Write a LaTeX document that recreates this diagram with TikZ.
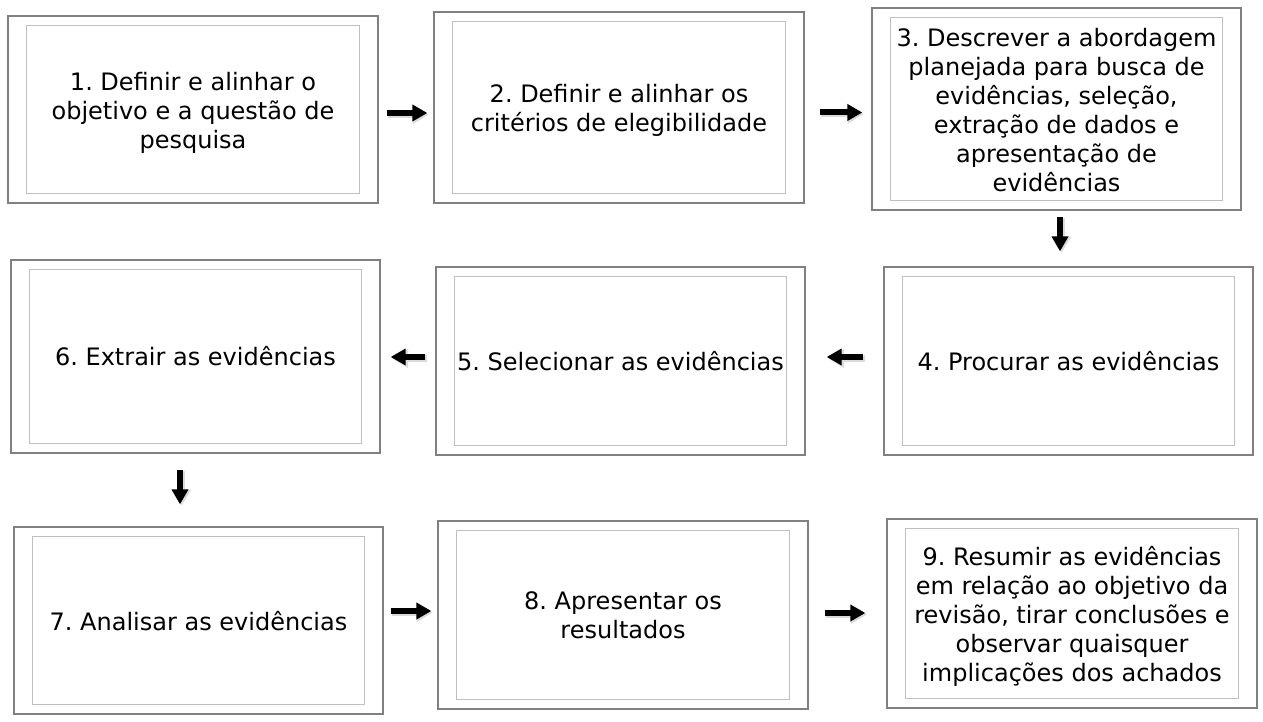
\documentclass[tikz,border=0pt]{standalone}
\usepackage{fontspec}
\setmainfont{DejaVu Sans}
\usetikzlibrary{arrows.meta,fit}
\begin{document}
\begin{tikzpicture}[x=1pt,y=-1pt,
 outer/.style={draw=black!50, line width=1.3pt, fill=white, rectangle, inner sep=0pt},
 innerbox/.style={draw=black!25, line width=1pt},
 lbl/.style={align=center, font=\fontsize{24}{29}\selectfont\frenchspacing, inner sep=0pt},
 arr/.style={line width=6pt, -{Triangle[length=15pt,width=16pt]}, black,
   preaction={draw=black!14, line width=7pt, -{Triangle[length=16pt,width=18pt]}, transform canvas={shift={(1.5pt,-1.5pt)}}}},
]
\useasboundingbox (0,0) rectangle (1263,722);
\newcommand\flowbox[7][0]{%
  \node[outer, fit={(#3,#4) (#5,#6)}] (#2) {};
  \draw[innerbox] ([xshift=19.5pt,yshift=-10pt]#2.north west) rectangle ([xshift=-19.5pt,yshift=10pt]#2.south east);
  \node[lbl, yshift=-#1pt] (t#2) at (#2.center) {#7};
}
\flowbox[3]{b1}{8}{16}{378}{203}{1. Definir e alinhar o\\objetivo e a questão de\\pesquisa}
\flowbox[3]{b2}{434}{12}{804}{203}{2. Definir e alinhar os\\critérios de elegibilidade}
\flowbox[1]{b3}{872}{8}{1241}{210}{3. Descrever a abordagem\\planejada para busca de\\evidências, seleção,\\extração de dados e\\apresentação de\\evidências}
\flowbox{b6}{11}{260}{380}{453}{6. Extrair as evidências}
\flowbox{b5}{436}{267}{805}{455}{5. Selecionar as evidências}
\flowbox{b4}{884}{267}{1253}{455}{4. Procurar as evidências}
\flowbox[0.5]{b7}{14}{527}{383}{714}{7. Analisar as evidências}
\flowbox[0.5]{b8}{438}{521}{808}{709}{8. Apresentar os\\resultados}
\flowbox[2.5]{b9}{887}{519}{1257}{708}{9. Resumir as evidências\\em relação ao objetivo da\\revisão, tirar conclusões e\\observar quaisquer\\implicações dos achados}

\draw[arr, shorten <=8pt, shorten >=6pt] (b1.east |- 0,113) -- (b2.west |- 0,113);
\draw[arr, shorten <=15pt, shorten >=9pt] (b2.east |- 0,112.5) -- (b3.west |- 0,112.5);
\draw[arr, shorten <=6pt, shorten >=15pt] (b3.south -| 1060,0) -- (b4.north -| 1060,0);
\draw[arr, shorten <=20pt, shorten >=21pt] (b4.west |- 0,357) -- (b5.east |- 0,357);
\draw[arr, shorten <=10pt, shorten >=10pt] (b5.west |- 0,357) -- (b6.east |- 0,357);
\draw[arr, shorten <=16pt, shorten >=22pt] (b6.south -| 180,0) -- (b7.north -| 180,0);
\draw[arr, shorten <=7pt, shorten >=6pt] (b7.east |- 0,611) -- (b8.west |- 0,611);
\draw[arr, shorten <=16pt, shorten >=21pt] (b8.east |- 0,613) -- (b9.west |- 0,613);
\end{tikzpicture}
\end{document}
